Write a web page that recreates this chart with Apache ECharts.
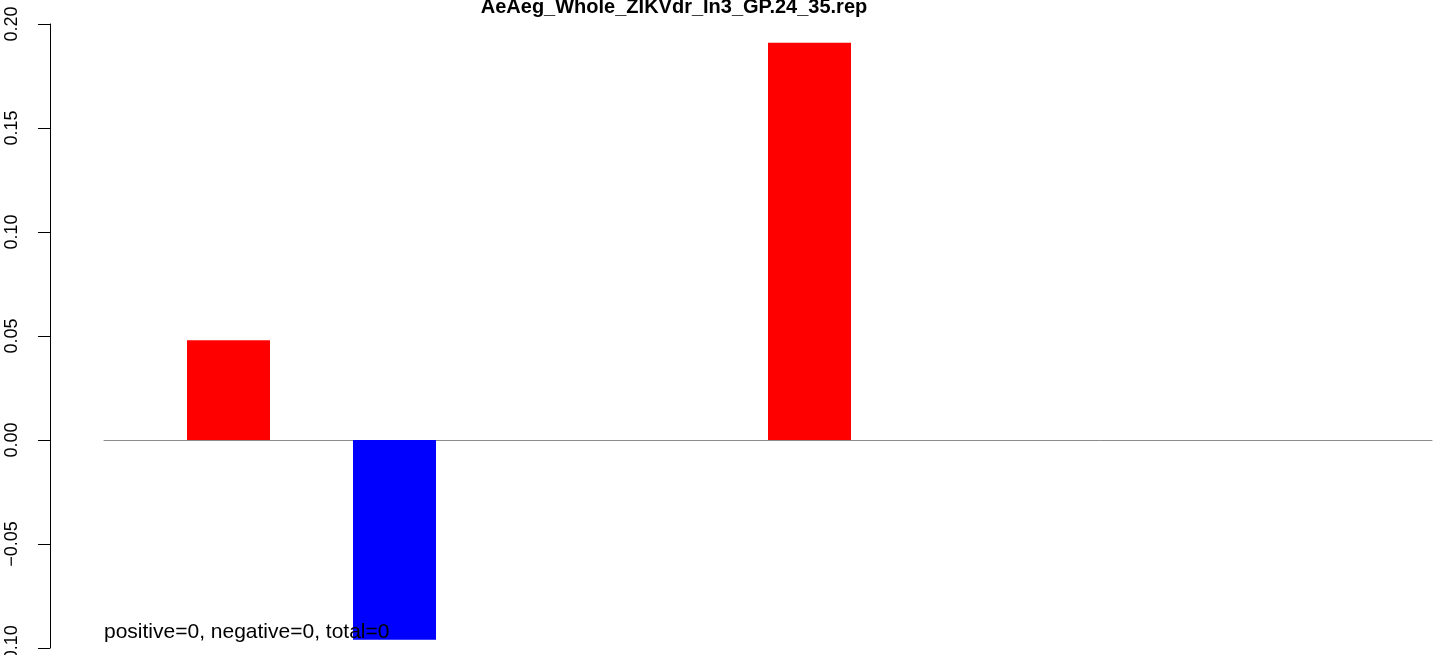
<!DOCTYPE html>
<html>
<head>
<meta charset="utf-8">
<script src="https://cdn.jsdelivr.net/npm/echarts@6/dist/echarts.min.js"></script>
<style>
html,body{margin:0;padding:0;background:#fff;}
#chart{width:1444px;height:655px;}
</style>
</head>
<body>
<div id="chart"></div>
<script>
// ---- data ----
const titleText = 'AeAeg_Whole_ZIKVdr_In3_GP.24_35.rep';
const noteText = 'positive=0, negative=0, total=0';
const categories = ['1','2','3','4','5','6','7','8','9','10','11','12','13','14','15','16'];
const values = [null, 0.048, null, -0.096, null, null, null, null, 0.191, null, null, null, null, null, null, null];
const yTicks = [-0.10, -0.05, 0.00, 0.05, 0.10, 0.15, 0.20];
const posColor = '#FF0000';
const negColor = '#0000FF';

const chart = echarts.init(document.getElementById('chart'), null, {renderer: 'canvas'});
const barData = values.map(v => v === null ? null : {value: v, itemStyle: {color: v >= 0 ? posColor : negColor}});

chart.setOption({
  animation: false,
  backgroundColor: '#ffffff',
  grid: {left: 104, right: 12, top: 24, bottom: 7, containLabel: false, outerBoundsMode: 'none'},
  xAxis: {
    type: 'category',
    data: categories,
    boundaryGap: true,
    axisLine: {show: true, onZero: true, lineStyle: {color: '#8c8c8c', width: 1}},
    axisTick: {show: false},
    axisLabel: {show: false},
    splitLine: {show: false}
  },
  yAxis: {
    type: 'value',
    min: yTicks[0],
    max: yTicks[yTicks.length - 1],
    interval: 0.05,
    offset: 54,
    axisLine: {show: true, onZero: false, lineStyle: {color: '#000', width: 1}},
    axisTick: {show: true, length: 12, lineStyle: {color: '#000', width: 1}},
    splitLine: {show: false},
    axisLabel: {
      rotate: 90,
      margin: 29,
      color: '#000',
      hideOverlap: false,
      fontFamily: 'Liberation Sans, Arial, sans-serif',
      fontSize: 18,
      formatter: v => (v < 0 ? '\u2212' : '') + Math.abs(v).toFixed(2)
    }
  },
  series: [{
    type: 'bar',
    data: barData,
    barWidth: '100%',
    barCategoryGap: '0%',
    z: 2
  }],
  graphic: [
    {
      type: 'text', x: 674, y: 7, z: 100,
      style: {text: titleText, fill: '#000', font: 'bold 20px "Liberation Sans", Arial, sans-serif', align: 'center', verticalAlign: 'middle'}
    },
    {
      type: 'text', x: 104, y: 632, z: 100,
      style: {text: noteText, fill: '#000', font: '21px "Liberation Sans", Arial, sans-serif', align: 'left', verticalAlign: 'middle'}
    }
  ]
});
</script>
</body>
</html>
